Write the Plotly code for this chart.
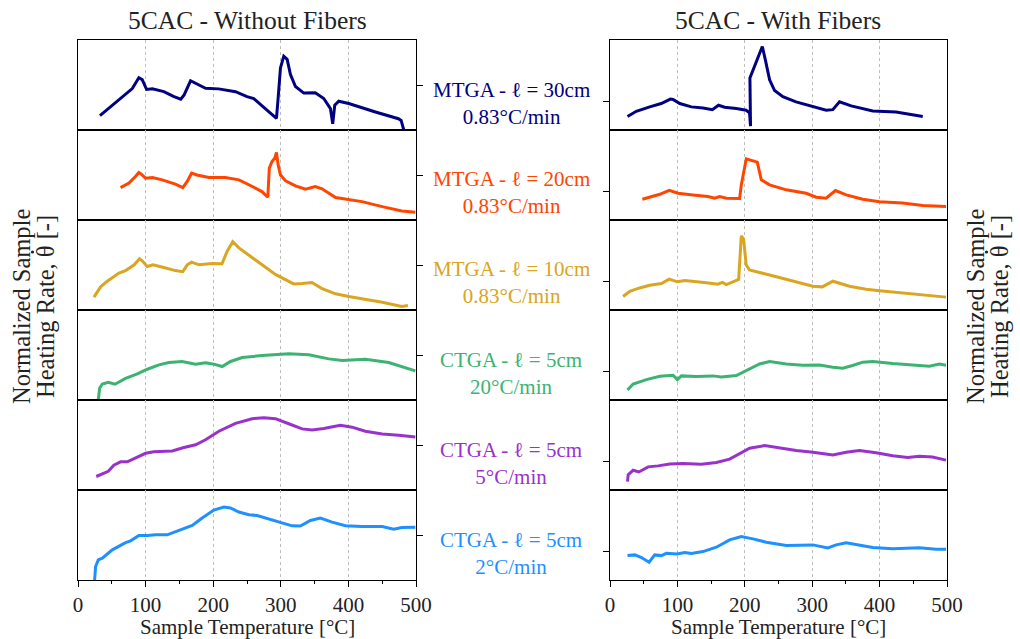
import plotly.graph_objects as go

# ---- Data: sample temperature [°C] and normalized heating rate (panel units) ----
# Without fibers
temp_nf_mtga30 = [32.5, 50.7, 70.4, 80.3, 90, 95, 101.5, 110, 127, 142, 152, 157, 166.5, 174, 188.7, 208, 233, 250, 260, 277, 289.7, 293.6, 296, 299.5, 304.4, 309.4, 314.3, 321.7, 334, 351, 363.6, 373.4, 376.8, 379.8, 385.7, 400.5, 440, 474, 478, 481.8]
rate_nf_mtga30 = [0.16, 0.275, 0.39, 0.46, 0.58, 0.56, 0.45, 0.457, 0.426, 0.37, 0.343, 0.39, 0.547, 0.52, 0.464, 0.457, 0.426, 0.37, 0.35, 0.238, 0.16, 0.13, 0.35, 0.69, 0.82, 0.785, 0.615, 0.483, 0.41, 0.415, 0.35, 0.238, 0.068, 0.275, 0.32, 0.294, 0.2, 0.125, 0.106, 0.004]

temp_nf_mtga20 = [63, 75.4, 85, 90, 93.6, 100, 110, 124.6, 144, 155, 161.6, 168, 176, 193.6, 218, 238, 258, 272, 280.8, 283, 287, 291, 293.6, 296, 299.5, 307, 321.7, 336.5, 351, 361, 381, 400.5, 420, 450, 479, 499]
rate_nf_mtga20 = [0.36, 0.41, 0.483, 0.528, 0.51, 0.465, 0.472, 0.446, 0.398, 0.36, 0.428, 0.52, 0.50, 0.472, 0.472, 0.446, 0.372, 0.316, 0.253, 0.576, 0.65, 0.688, 0.75, 0.613, 0.50, 0.435, 0.38, 0.342, 0.372, 0.346, 0.249, 0.23, 0.204, 0.149, 0.10, 0.085]

temp_nf_mtga10 = [23.6, 33.5, 43.3, 60.6, 70.4, 82.8, 91, 95, 102.5, 111, 127, 144, 155, 161.6, 168, 179, 198.5, 213, 220.7, 229, 238, 252.7, 272.4, 292, 307, 319, 331.5, 346, 361, 381, 400.5, 420, 450, 479, 488]
rate_nf_mtga10 = [0.143, 0.257, 0.32, 0.41, 0.438, 0.50, 0.57, 0.547, 0.483, 0.502, 0.472, 0.438, 0.426, 0.502, 0.532, 0.502, 0.517, 0.513, 0.653, 0.758, 0.69, 0.607, 0.502, 0.396, 0.332, 0.29, 0.294, 0.305, 0.238, 0.18, 0.15, 0.125, 0.087, 0.04, 0.05]

temp_nf_ctga20 = [30, 32, 36, 44.8, 54.7, 70.4, 87.7, 102.5, 119.7, 134.5, 154, 174, 188.7, 201, 213.3, 225.6, 243, 272.4, 311.8, 341.4, 371, 390.6, 425, 459.6, 499]
rate_nf_ctga20 = [0.0, 0.13, 0.178, 0.197, 0.175, 0.24, 0.29, 0.342, 0.39, 0.416, 0.428, 0.398, 0.413, 0.398, 0.372, 0.428, 0.472, 0.494, 0.513, 0.502, 0.457, 0.439, 0.453, 0.416, 0.323]

temp_nf_ctga5 = [27, 35.5, 44.8, 53, 63, 72.9, 85, 100, 112, 139.4, 156.7, 174, 188.7, 208.4, 233, 257.6, 274.8, 292, 311.8, 331.5, 346.3, 363.6, 388.2, 405.4, 425, 450, 474.4, 499]
rate_nf_ctga5 = [0.15, 0.174, 0.208, 0.275, 0.313, 0.313, 0.358, 0.408, 0.426, 0.434, 0.472, 0.502, 0.558, 0.653, 0.74, 0.792, 0.804, 0.792, 0.736, 0.679, 0.668, 0.683, 0.72, 0.698, 0.653, 0.623, 0.608, 0.589]

temp_nf_ctga2 = [24.6, 26, 30, 36, 50.7, 70.4, 77.8, 90, 102.5, 114.8, 132, 144.3, 169, 183.7, 201, 215.8, 225.6, 238, 252.7, 265, 282, 299.5, 316.7, 329, 343.8, 358.6, 375.9, 395.6, 420, 450, 467, 479, 499]
rate_nf_ctga2 = [0.0, 0.149, 0.223, 0.242, 0.335, 0.416, 0.435, 0.494, 0.494, 0.502, 0.502, 0.539, 0.606, 0.688, 0.777, 0.81, 0.80, 0.755, 0.725, 0.717, 0.677, 0.643, 0.602, 0.599, 0.662, 0.688, 0.643, 0.602, 0.595, 0.595, 0.565, 0.584, 0.587]

# With fibers
temp_wf_mtga30 = [26, 39, 59, 76, 89.6, 93.6, 103.5, 120.7, 138, 151.9, 161, 170, 187.4, 202, 207, 208.5, 207.6, 216, 226, 230.9, 236.8, 244.2, 256.5, 276, 301, 320.7, 330.6, 340.5, 357.8, 389.9, 424.4, 464]
rate_wf_mtga30 = [0.15, 0.208, 0.257, 0.294, 0.343, 0.34, 0.294, 0.257, 0.245, 0.226, 0.275, 0.253, 0.238, 0.219, 0.192, 0.042, 0.577, 0.728, 0.928, 0.766, 0.558, 0.438, 0.37, 0.313, 0.264, 0.219, 0.226, 0.313, 0.268, 0.211, 0.2, 0.15]

temp_wf_mtga20 = [48, 74, 87.7, 101, 123, 145.4, 155.3, 162.7, 172.6, 192.3, 194.8, 202.2, 218.5, 224.5, 236.8, 261.5, 291, 306, 320.7, 334.5, 350.4, 375, 399.8, 434, 464, 498.5]
rate_wf_mtga20 = [0.23, 0.286, 0.33, 0.297, 0.279, 0.26, 0.242, 0.26, 0.242, 0.238, 0.39, 0.68, 0.643, 0.446, 0.39, 0.335, 0.297, 0.253, 0.242, 0.327, 0.279, 0.23, 0.204, 0.19, 0.16, 0.149]

temp_wf_mtga10 = [19.5, 29.4, 44, 59, 76.3, 87.7, 100, 111, 143, 160, 166.7, 172.6, 185, 190.9, 194.8, 198.3, 202, 207, 236.8, 271.4, 301, 315, 330.6, 355.3, 380, 400, 439.3, 469, 498.5]
rate_wf_mtga10 = [0.15, 0.208, 0.245, 0.275, 0.294, 0.343, 0.313, 0.328, 0.302, 0.287, 0.306, 0.283, 0.32, 0.34, 0.823, 0.785, 0.502, 0.445, 0.389, 0.32, 0.264, 0.257, 0.32, 0.264, 0.23, 0.215, 0.185, 0.162, 0.143]

temp_wf_ctga20 = [26, 34.3, 54, 74, 93.6, 100, 106, 128, 153, 165, 187.4, 202, 222, 236.8, 261.5, 286, 310.9, 330.6, 345.4, 360, 375, 389.9, 419.5, 473.8, 488.7, 498.5]
rate_wf_ctga20 = [0.11, 0.178, 0.227, 0.264, 0.275, 0.227, 0.268, 0.26, 0.268, 0.257, 0.271, 0.327, 0.40, 0.428, 0.40, 0.387, 0.39, 0.364, 0.353, 0.383, 0.42, 0.428, 0.405, 0.375, 0.40, 0.387]

temp_wf_ctga5 = [26, 27, 34.3, 42.7, 56.6, 71.4, 88.6, 108.4, 135.6, 157.8, 177.5, 192.3, 207.2, 229.4, 251.6, 276.3, 301, 330.6, 350.4, 370, 394.8, 419.5, 441.7, 459, 478.5, 498.5]
rate_wf_ctga5 = [0.094, 0.17, 0.219, 0.2, 0.257, 0.268, 0.29, 0.294, 0.287, 0.306, 0.343, 0.408, 0.464, 0.494, 0.464, 0.438, 0.419, 0.389, 0.419, 0.438, 0.415, 0.381, 0.362, 0.374, 0.366, 0.332]

temp_wf_ctga2 = [26, 36.8, 46.7, 58, 66.4, 76.3, 83.7, 99.5, 110.9, 120.7, 138, 157.8, 177.5, 194.8, 212, 231.9, 261.5, 286, 301, 323.2, 335.6, 350.4, 370, 389.9, 419.5, 459, 483.7, 498.5]
rate_wf_ctga2 = [0.271, 0.279, 0.249, 0.197, 0.279, 0.271, 0.297, 0.29, 0.305, 0.294, 0.316, 0.364, 0.446, 0.483, 0.457, 0.42, 0.383, 0.383, 0.39, 0.357, 0.39, 0.413, 0.387, 0.36, 0.346, 0.357, 0.342, 0.342]

series_labels = [
    ("MTGA - ℓ = 30cm", "0.83°C/min"),
    ("MTGA - ℓ = 20cm", "0.83°C/min"),
    ("MTGA - ℓ = 10cm", "0.83°C/min"),
    ("CTGA - ℓ = 5cm", "20°C/min"),
    ("CTGA - ℓ = 5cm", "5°C/min"),
    ("CTGA - ℓ = 5cm", "2°C/min"),
]
series_colors = ["#000080", "#FF4500", "#DAA520", "#3CB371", "#9932CC", "#1E90FF"]
x_ticks = [0, 100, 200, 300, 400, 500]

without_fibers = [
    (temp_nf_mtga30, rate_nf_mtga30), (temp_nf_mtga20, rate_nf_mtga20),
    (temp_nf_mtga10, rate_nf_mtga10), (temp_nf_ctga20, rate_nf_ctga20),
    (temp_nf_ctga5, rate_nf_ctga5), (temp_nf_ctga2, rate_nf_ctga2),
]
with_fibers = [
    (temp_wf_mtga30, rate_wf_mtga30), (temp_wf_mtga20, rate_wf_mtga20),
    (temp_wf_mtga10, rate_wf_mtga10), (temp_wf_ctga20, rate_wf_ctga20),
    (temp_wf_ctga5, rate_wf_ctga5), (temp_wf_ctga2, rate_wf_ctga2),
]

W, H = 1020, 639
FONT = "Liberation Serif"
TEXT_COLOR = "#222"
left_x = (78 / W, 416 / W)
right_x = (610 / W, 947 / W)
top_px, row_px = 40, 90


def py(px):
    return 1 - px / H


fig = go.Figure()
layout = {}

for i in range(6):
    y0 = py(top_px + row_px * (i + 1))
    y1 = py(top_px + row_px * i)
    last = i == 5
    for j, (dom, data, yside, ytick) in enumerate([
        (left_x, without_fibers, "right", 0.5),
        (right_x, with_fibers, "left", 0.32),
    ]):
        n = 2 * i + j + 1
        sfx = "" if n == 1 else str(n)
        xs, ys = data[i]
        fig.add_trace(go.Scatter(
            x=xs, y=ys, mode="lines",
            line=dict(color=series_colors[i], width=3),
            xaxis="x" + sfx, yaxis="y" + sfx, showlegend=False,
            hoverinfo="skip",
        ))
        layout["xaxis" + sfx] = dict(
            domain=list(dom), anchor="y" + sfx, range=[0, 500],
            automargin=False,
            tickvals=x_ticks, showticklabels=last,
            ticks="outside" if last else "", ticklen=6, tickwidth=1.2,
            tickcolor="black",
            minor=dict(ticks="outside", dtick=50, tick0=0, ticklen=3,
                       tickcolor="black", showgrid=False) if last else dict(ticks=""),
            showgrid=True, gridcolor="#bdbdbd", griddash="dot", gridwidth=1,
            showline=True, mirror=True, linecolor="black", linewidth=1,
            zeroline=False, fixedrange=True,
            tickfont=dict(family=FONT, size=21, color=TEXT_COLOR),
        )
        layout["yaxis" + sfx] = dict(
            domain=[y0, y1], anchor="x" + sfx, range=[0, 1],
            automargin=False,
            side=yside, tickvals=[ytick], showticklabels=False,
            ticks="outside", ticklen=6, tickwidth=1.2, tickcolor="black",
            showgrid=False, zeroline=False,
            showline=True, mirror=True, linecolor="black", linewidth=1,
            fixedrange=True,
        )

annotations = []
shapes = []


def text(x, y, s, size, color=TEXT_COLOR, angle=0):
    annotations.append(dict(
        x=x / W, y=py(y), xref="paper", yref="paper", text=s,
        showarrow=False, xanchor="center", yanchor="middle",
        textangle=angle, font=dict(family=FONT, size=size, color=color),
    ))


text(247, 20, "5CAC - Without Fibers", 25.5)
text(778, 20, "5CAC - With Fibers", 25.5)
text(247, 627, "Sample Temperature [°C]", 21)
text(778, 627, "Sample Temperature [°C]", 21)
for i, (l1, l2) in enumerate(series_labels):
    text(511, 103 + row_px * i, l1 + "<br>" + l2, 21, series_colors[i])

# vertical axis titles on both sides; the time-derivative dot over theta
# is drawn as a tiny filled circle just "above" the rotated glyph
for x0 in (21, 975):
    text(x0, 307, "Normalized Sample", 24.5, angle=-90)
    text(x0 + 24, 307, "Heating Rate, θ [-]", 24.5, angle=-90)
    cx, cy, r = x0 + 24 - 12.5, 252, 1.6
    shapes.append(dict(
        type="circle", xref="paper", yref="paper",
        x0=(cx - r) / W, x1=(cx + r) / W, y0=py(cy + r), y1=py(cy - r),
        fillcolor=TEXT_COLOR, line=dict(width=0),
    ))

fig.update_layout(
    template="none",
    width=W, height=H, autosize=False,
    margin=dict(l=0, r=0, t=0, b=0, pad=0, autoexpand=False),
    paper_bgcolor="white", plot_bgcolor="white",
    annotations=annotations, shapes=shapes, **layout,
)

fig.write_html(
    "out.html",
    config={"responsive": False, "displayModeBar": False},
    post_script="document.body.style.margin='0';document.body.style.overflow='hidden';",
)
